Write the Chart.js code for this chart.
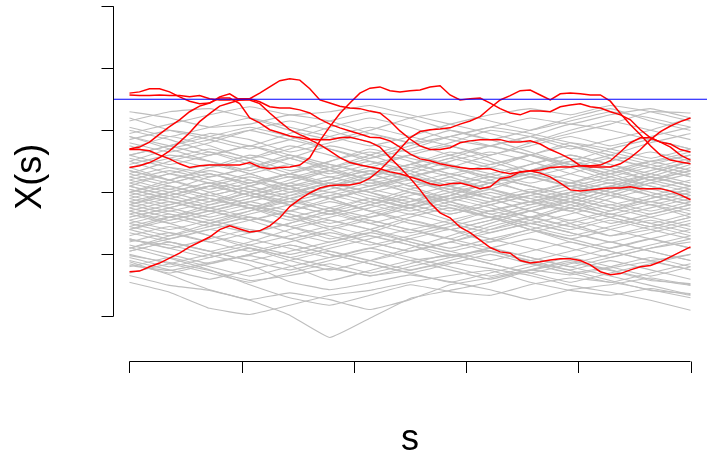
<!DOCTYPE html>
<html><head><meta charset="utf-8">
<script src="https://cdn.jsdelivr.net/npm/chart.js@4.4.1/dist/chart.umd.min.js"></script>
<style>html,body{margin:0;padding:0;background:#fff;overflow:hidden}#c{display:block}</style>
</head><body>
<canvas id="c" width="707" height="456"></canvas>
<script>
// s positions of the sampled values
const sCoarse = [0,0.0714,0.1429,0.2143,0.2857,0.3571,0.4286,0.5,0.5714,0.6429,0.7143,0.7857,0.8571,0.9286,1];
const sFine = [0,0.0179,0.0357,0.0536,0.0714,0.0893,0.1071,0.125,0.1429,0.1607,0.1786,0.1964,0.2143,0.2321,0.25,0.2679,0.2857,0.3036,0.3214,0.3393,0.3571,0.375,0.3929,0.4107,0.4286,0.4464,0.4643,0.4821,0.5,0.5179,0.5357,0.5536,0.5714,0.5893,0.6071,0.625,0.6429,0.6607,0.6786,0.6964,0.7143,0.7321,0.75,0.7679,0.7857,0.8036,0.8214,0.8393,0.8571,0.875,0.8929,0.9107,0.9286,0.9464,0.9643,0.9821,1];
const xTicks = [0,0.2,0.4,0.6,0.8,1];
const yTicks = [-2,-1,0,1,2,3];
const threshold = 1.5;
const plotX = [-0.0294, 1.0294];
const plotY = [-2.72, 3.22];

// gray paths (never exceed the threshold), values at sCoarse
const grayTop = [
 [1.3,1.2,1.05,1.1,1.25,1.15,0.95,0.8,0.9,1.05,1.2,1.1,1.25,1.35,1.2],
 [1.15,1.3,1.35,1.2,1.0,0.85,1.0,1.2,1.3,1.15,1.0,1.15,1.3,1.2,1.05],
 [0.95,1.1,1.25,1.38,1.25,1.3,1.4,1.25,1.1,0.95,0.8,0.95,1.1,1.3,1.28],
 [1.2,1.0,0.85,0.7,0.85,1.05,1.2,1.05,0.85,0.75,0.9,1.1,1.0,0.85,0.7],
 [1.05,0.9,1.05,1.2,1.05,0.9,0.75,0.9,1.1,1.25,1.35,1.25,1.4,1.3,1.15],
 [0.85,1.0,0.9,0.75,0.95,1.15,1.3,1.2,1.0,0.85,1.0,1.2,1.35,1.15,1.0]
];
const grayUpper = [
 [0.8,0.65,0.8,1.0,1.15,1.0,0.8,0.65,0.8,1.0,0.9,0.7,0.85,1.0,1.2],
 [0.7,0.9,0.75,0.55,0.7,0.9,1.05,0.9,0.75,0.6,0.8,1.0,1.15,1.0,0.85],
 [0.9,0.75,0.6,0.75,0.55,0.4,0.55,0.75,0.9,0.75,0.6,0.45,0.6,0.8,0.95],
 [0.6,0.75,0.95,0.85,0.65,0.8,0.95,0.8,0.6,0.45,0.6,0.8,0.7,0.55,0.7],
 [0.75,0.55,0.4,0.55,0.75,0.6,0.4,0.25,0.4,0.6,0.75,0.9,0.75,0.9,1.05],
 [0.5,0.7,0.85,1.0,0.85,0.7,0.55,0.7,0.9,1.05,0.95,0.8,0.65,0.5,0.6]
];
const grayMid = [
 [0.45,0.6,0.5,0.35,0.55,0.75,0.6,0.4,0.55,0.75,0.9,0.75,0.55,0.4,0.55],
 [0.35,0.2,0.4,0.6,0.45,0.25,0.4,0.6,0.75,0.55,0.35,0.5,0.7,0.85,0.7],
 [0.3,0.5,0.65,0.5,0.3,0.1,0.25,0.45,0.3,0.15,0.35,0.55,0.4,0.2,0.35],
 [0.55,0.4,0.25,0.4,0.6,0.45,0.3,0.45,0.65,0.5,0.3,0.15,0.3,0.5,0.65],
 [0.4,0.55,0.7,0.55,0.35,0.5,0.7,0.55,0.4,0.25,0.45,0.6,0.45,0.3,0.15],
 [0.6,0.45,0.6,0.75,0.6,0.4,0.2,0.35,0.55,0.4,0.6,0.75,0.6,0.45,0.3],
 [0.25,0.4,0.3,0.15,0.3,0.5,0.65,0.5,0.3,0.45,0.6,0.45,0.3,0.45,0.6],
 [0.5,0.3,0.15,0.3,0.45,0.3,0.45,0.6,0.45,0.3,0.15,0.3,0.5,0.65,0.5]
];
const grayA = [
 [0.2,0.05,0.25,0.4,0.55,0.35,0.15,0.3,0.5,0.65,0.5,0.3,0.15,0.3,0.5],
 [0.1,0.3,0.15,-0.05,0.15,0.35,0.5,0.35,0.15,0.3,0.45,0.6,0.45,0.25,0.1],
 [0.05,-0.1,0.1,0.25,0.1,-0.1,0.05,0.25,0.4,0.2,0.0,0.15,0.35,0.5,0.35],
 [0.15,0.3,0.45,0.3,0.1,0.2,0.35,0.2,0.05,0.2,0.35,0.2,0.05,0.2,0.35],
 [0.25,0.1,-0.05,0.1,0.3,0.15,0.0,0.15,0.3,0.15,0.35,0.5,0.35,0.2,0.05],
 [0.3,0.15,0.3,0.1,-0.05,0.1,0.25,0.4,0.25,0.05,-0.1,0.05,0.2,0.05,0.2],
 [0.0,0.15,0.3,0.15,0.3,0.45,0.3,0.1,0.25,0.4,0.25,0.1,0.25,0.4,0.25],
 [0.2,0.35,0.2,0.05,-0.1,0.05,0.2,0.05,-0.1,0.1,0.25,0.4,0.55,0.4,0.25],
 [0.1,-0.05,-0.2,-0.05,0.1,0.25,0.1,0.25,0.4,0.25,0.1,-0.05,0.1,0.25,0.1],
 [0.35,0.2,0.05,0.2,0.05,0.2,0.35,0.2,0.0,-0.15,0.0,0.15,0.0,-0.15,0.0]
];
const grayB = [
 [0.0,0.2,0.35,0.2,0.0,0.15,0.3,0.1,-0.1,0.05,0.25,0.1,-0.05,0.15,0.3],
 [-0.05,-0.2,0.0,0.15,0.3,0.1,-0.1,-0.25,-0.05,0.15,0.3,0.45,0.3,0.1,-0.05],
 [-0.1,0.05,-0.1,-0.25,-0.05,0.15,0.0,-0.2,-0.05,0.15,0.0,-0.15,0.05,0.25,0.1],
 [0.05,-0.1,-0.25,-0.1,0.05,-0.1,0.05,0.2,0.05,-0.1,0.05,-0.1,-0.25,-0.1,0.05],
 [-0.15,0.0,0.15,0.0,-0.15,0.0,-0.15,-0.3,-0.15,0.0,-0.15,0.0,0.15,0.0,-0.15],
 [0.1,-0.05,0.1,-0.05,-0.2,-0.05,0.1,0.25,0.1,-0.05,-0.2,-0.05,0.1,-0.05,-0.2],
 [-0.05,0.1,-0.05,0.1,0.25,0.1,-0.05,-0.2,-0.35,-0.2,-0.05,0.1,-0.05,-0.2,-0.05],
 [0.0,-0.15,-0.3,-0.15,0.0,0.15,0.0,-0.15,0.0,0.15,0.3,0.15,0.0,0.15,0.0],
 [-0.2,-0.05,0.1,-0.05,-0.2,-0.35,-0.2,-0.05,0.1,0.25,0.1,-0.05,-0.2,-0.05,0.1],
 [0.15,0.0,-0.15,0.0,0.15,0.0,0.15,0.0,-0.15,-0.3,-0.15,0.0,-0.15,-0.3,-0.15]
];
const grayC = [
 [-0.15,-0.3,-0.15,0.05,-0.1,-0.3,-0.15,0.05,0.2,0.05,-0.15,-0.3,-0.1,0.05,-0.1],
 [-0.2,0.0,0.15,0.0,-0.2,-0.35,-0.2,0.0,-0.15,-0.35,-0.2,0.0,0.15,-0.05,-0.2],
 [-0.25,-0.4,-0.25,-0.1,0.05,-0.1,-0.3,-0.15,0.05,-0.1,-0.3,-0.45,-0.3,-0.1,0.05],
 [-0.3,-0.15,-0.3,-0.45,-0.3,-0.1,0.05,-0.1,-0.3,-0.15,0.0,-0.15,-0.35,-0.2,-0.35],
 [-0.35,-0.2,-0.05,-0.2,-0.35,-0.5,-0.35,-0.2,-0.35,-0.2,-0.05,-0.2,-0.35,-0.5,-0.35],
 [-0.2,-0.35,-0.5,-0.35,-0.2,-0.05,-0.2,-0.35,-0.2,-0.35,-0.5,-0.35,-0.2,-0.35,-0.2],
 [-0.3,-0.45,-0.3,-0.15,-0.3,-0.15,-0.3,-0.45,-0.6,-0.45,-0.3,-0.15,-0.3,-0.15,-0.3],
 [-0.1,-0.25,-0.4,-0.25,-0.4,-0.25,-0.1,-0.25,-0.1,0.05,-0.1,-0.25,-0.4,-0.55,-0.4],
 [-0.4,-0.25,-0.1,-0.25,-0.1,-0.25,-0.4,-0.25,-0.1,-0.25,-0.4,-0.55,-0.4,-0.25,-0.1],
 [-0.25,-0.1,-0.25,-0.4,-0.55,-0.4,-0.25,-0.1,-0.25,-0.4,-0.25,-0.1,-0.25,-0.4,-0.55]
];
const grayD = [
 [-0.35,-0.5,-0.35,-0.2,-0.35,-0.55,-0.4,-0.2,-0.05,-0.2,-0.4,-0.25,-0.05,-0.2,-0.4],
 [-0.4,-0.25,-0.1,-0.25,-0.45,-0.3,-0.1,-0.25,-0.45,-0.6,-0.45,-0.25,-0.4,-0.55,-0.4],
 [-0.45,-0.6,-0.45,-0.3,-0.15,-0.3,-0.5,-0.65,-0.5,-0.3,-0.15,-0.3,-0.5,-0.35,-0.2],
 [-0.5,-0.35,-0.5,-0.65,-0.5,-0.3,-0.45,-0.6,-0.75,-0.55,-0.4,-0.55,-0.7,-0.55,-0.7],
 [-0.55,-0.7,-0.55,-0.4,-0.55,-0.75,-0.6,-0.4,-0.25,-0.4,-0.6,-0.75,-0.6,-0.45,-0.6],
 [-0.6,-0.45,-0.3,-0.45,-0.65,-0.8,-0.65,-0.45,-0.6,-0.8,-0.65,-0.5,-0.35,-0.5,-0.65],
 [-0.5,-0.65,-0.8,-0.65,-0.5,-0.35,-0.5,-0.35,-0.5,-0.65,-0.5,-0.65,-0.8,-0.65,-0.5],
 [-0.45,-0.3,-0.45,-0.6,-0.75,-0.6,-0.45,-0.6,-0.45,-0.3,-0.45,-0.6,-0.45,-0.6,-0.75],
 [-0.6,-0.75,-0.6,-0.45,-0.3,-0.45,-0.6,-0.75,-0.9,-0.75,-0.6,-0.45,-0.6,-0.75,-0.9],
 [-0.55,-0.4,-0.55,-0.4,-0.55,-0.7,-0.85,-0.7,-0.55,-0.4,-0.55,-0.7,-0.55,-0.4,-0.25]
];
const grayE = [
 [-0.65,-0.8,-0.95,-0.8,-0.6,-0.45,-0.6,-0.8,-0.95,-0.8,-0.6,-0.75,-0.9,-0.75,-0.6],
 [-0.7,-0.55,-0.7,-0.85,-1.0,-0.85,-0.7,-0.85,-1.05,-0.9,-0.75,-0.9,-1.05,-0.9,-0.8],
 [-0.75,-0.9,-0.75,-0.6,-0.75,-0.95,-1.1,-0.95,-0.8,-0.95,-1.1,-0.95,-0.8,-0.95,-1.1],
 [-0.85,-1.0,-1.15,-1.0,-0.85,-1.0,-1.15,-1.3,-1.15,-1.0,-1.15,-1.3,-1.2,-1.05,-1.2],
 [-0.8,-0.65,-0.8,-0.95,-0.8,-0.65,-0.8,-0.95,-0.8,-0.65,-0.5,-0.65,-0.8,-0.95,-1.1],
 [-0.9,-0.75,-0.6,-0.75,-0.9,-1.05,-0.9,-0.75,-0.6,-0.75,-0.9,-1.05,-0.9,-0.75,-0.9],
 [-0.75,-0.9,-1.05,-0.9,-1.05,-0.9,-0.75,-0.6,-0.75,-0.9,-1.05,-1.2,-1.05,-0.9,-0.75],
 [-0.95,-0.8,-0.95,-1.1,-0.95,-0.8,-0.65,-0.8,-0.95,-1.1,-0.95,-0.8,-0.95,-1.1,-1.25]
];
const grayF = [
 [-0.95,-0.8,-0.95,-1.1,-1.25,-1.1,-0.95,-1.1,-1.25,-1.4,-1.25,-1.1,-1.25,-1.4,-1.5],
 [-1.05,-1.2,-1.05,-0.9,-1.05,-1.2,-1.35,-1.2,-1.05,-0.9,-1.05,-1.2,-1.35,-1.5,-1.65],
 [-1.1,-1.25,-1.4,-1.25,-1.1,-0.95,-1.1,-1.25,-1.1,-0.95,-1.1,-1.25,-1.1,-1.25,-1.4],
 [-1.2,-1.05,-1.2,-1.35,-1.2,-1.05,-0.9,-1.05,-1.2,-1.35,-1.2,-1.05,-1.2,-1.35,-1.2],
 [-1.0,-1.15,-1.3,-1.45,-1.3,-1.15,-1.3,-1.15,-1.0,-1.15,-1.3,-1.45,-1.3,-1.15,-1.0],
 [-1.15,-1.3,-1.15,-1.0,-0.85,-1.0,-1.15,-1.3,-1.45,-1.3,-1.15,-1.3,-1.45,-1.3,-1.15]
];
const grayLow = [
 [-1.34,-1.50,-1.58,-1.74,-1.98,-2.34,-2.03,-1.71,-1.58,-1.45,-1.26,-1.13,-1.26,-1.42,-1.47],
 [-1.45,-1.61,-1.87,-1.97,-1.82,-1.66,-1.58,-1.45,-1.34,-1.26,-1.45,-1.58,-1.66,-1.55,-1.66],
 [-1.02,-1.13,-1.26,-1.42,-1.34,-1.23,-1.34,-1.26,-1.13,-1.23,-1.34,-1.50,-1.61,-1.74,-1.90],
 [-1.18,-1.26,-1.13,-1.02,-1.18,-1.42,-1.26,-1.10,-1.02,-0.94,-1.13,-1.26,-1.42,-1.58,-1.63],
 [-1.12,-1.33,-1.57,-1.73,-1.62,-1.73,-1.89,-1.73,-1.49,-1.38,-1.25,-1.33,-1.22,-1.12,-1.25],
 [-0.89,-1.06,-1.25,-1.49,-1.70,-1.82,-1.66,-1.49,-1.60,-1.66,-1.49,-1.38,-1.45,-1.57,-1.70],
 [-0.77,-0.85,-1.01,-1.17,-1.44,-1.57,-1.46,-1.33,-1.44,-1.57,-1.73,-1.57,-1.49,-1.38,-1.49]
];
const grayDrift = [
 [0.9,0.7,0.5,0.3,0.1,-0.1,-0.3,-0.5,-0.6,-0.45,-0.3,-0.5,-0.7,-0.6,-0.45],
 [-0.9,-0.7,-0.5,-0.3,-0.1,0.1,0.3,0.45,0.6,0.75,0.6,0.4,0.2,0.35,0.5],
 [0.4,0.2,0.0,-0.2,-0.4,-0.6,-0.8,-0.95,-0.8,-0.6,-0.4,-0.2,0.0,0.2,0.4],
 [-0.6,-0.4,-0.2,0.0,0.2,0.35,0.2,0.0,-0.2,-0.4,-0.6,-0.8,-0.95,-1.1,-1.0],
 [1.0,0.85,0.65,0.45,0.25,0.4,0.6,0.8,1.0,0.85,0.65,0.45,0.25,0.1,-0.05],
 [-0.3,-0.5,-0.7,-0.9,-1.1,-1.25,-1.1,-0.9,-0.7,-0.5,-0.3,-0.1,0.1,0.3,0.5],
 [0.6,0.75,0.9,1.05,0.9,0.7,0.5,0.3,0.1,-0.1,-0.3,-0.15,0.05,0.25,0.45],
 [-1.3,-1.15,-1.0,-0.85,-0.7,-0.55,-0.7,-0.85,-1.0,-1.15,-1.3,-1.15,-1.0,-0.85,-0.7]
];

// red paths (exceed the threshold), values at sFine
const red1 = [-1.28,-1.27,-1.20,-1.14,-1.06,-0.98,-0.88,-0.80,-0.72,-0.60,-0.54,-0.59,-0.64,-0.62,-0.54,-0.41,-0.23,-0.11,-0.01,0.07,0.11,0.12,0.12,0.15,0.23,0.36,0.52,0.70,0.88,0.98,1.01,1.02,1.04,1.10,1.15,1.22,1.36,1.49,1.56,1.64,1.65,1.57,1.49,1.59,1.60,1.59,1.57,1.57,1.47,1.27,1.09,0.93,0.75,0.60,0.52,0.49,0.46];
const red2 = [0.69,0.69,0.67,0.60,0.54,0.46,0.40,0.43,0.44,0.44,0.44,0.44,0.48,0.41,0.38,0.40,0.41,0.44,0.56,0.83,1.06,1.27,1.44,1.60,1.68,1.70,1.64,1.62,1.64,1.65,1.70,1.72,1.57,1.49,1.51,1.52,1.44,1.35,1.28,1.25,1.31,1.31,1.30,1.38,1.41,1.43,1.38,1.36,1.30,1.25,1.17,1.01,0.88,0.81,0.78,0.69,0.65];
const red3 = [0.40,0.43,0.48,0.56,0.67,0.81,0.96,1.14,1.27,1.39,1.44,1.49,1.51,1.60,1.70,1.80,1.83,1.81,1.67,1.49,1.44,1.39,1.36,1.35,1.31,1.28,1.15,0.99,0.86,0.75,0.69,0.69,0.72,0.80,0.83,0.85,0.85,0.85,0.81,0.81,0.83,0.78,0.69,0.62,0.54,0.43,0.41,0.41,0.41,0.46,0.56,0.69,0.85,0.98,1.07,1.14,1.20];
const red4 = [1.60,1.62,1.67,1.67,1.62,1.54,1.47,1.43,1.44,1.54,1.59,1.49,1.49,1.43,1.28,1.14,1.01,0.93,0.86,0.85,0.85,0.88,0.89,0.85,0.81,0.73,0.56,0.40,0.23,0.04,-0.17,-0.33,-0.41,-0.56,-0.65,-0.77,-0.89,-0.96,-0.98,-1.10,-1.14,-1.12,-1.09,-1.07,-1.07,-1.10,-1.17,-1.28,-1.33,-1.31,-1.25,-1.20,-1.18,-1.12,-1.04,-0.96,-0.88];
const red5 = [1.57,1.56,1.56,1.57,1.56,1.56,1.54,1.56,1.51,1.49,1.49,1.51,1.51,1.46,1.38,1.36,1.36,1.33,1.28,1.18,1.10,1.04,0.99,0.94,0.89,0.88,0.83,0.73,0.62,0.54,0.51,0.46,0.43,0.40,0.38,0.38,0.38,0.33,0.30,0.33,0.35,0.31,0.25,0.15,0.04,0.02,0.04,0.06,0.07,0.07,0.09,0.06,0.06,0.06,0.02,-0.04,-0.12];
const red6 = [0.70,0.73,0.81,0.94,1.06,1.17,1.30,1.39,1.44,1.52,1.52,1.43,1.20,1.12,1.01,0.96,0.91,0.88,0.85,0.77,0.67,0.56,0.48,0.44,0.41,0.38,0.33,0.30,0.25,0.20,0.14,0.11,0.14,0.15,0.11,0.06,0.09,0.22,0.25,0.33,0.35,0.36,0.40,0.41,0.41,0.43,0.43,0.44,0.51,0.65,0.80,0.88,0.88,0.81,0.73,0.60,0.52];

const grayGroups = [grayTop, grayUpper, grayMid, grayA, grayB, grayC, grayD, grayE, grayF, grayLow, grayDrift];
const redPaths = [red1, red2, red3, red4, red5, red6];

const datasets = [];
datasets.push({
  data: [{x: plotX[0], y: threshold}, {x: plotX[1], y: threshold}],
  borderColor: '#0000FF', borderWidth: 1.1, pointRadius: 0, tension: 0, order: 0
});
redPaths.forEach(p => datasets.push({
  data: p.map((v, i) => ({x: sFine[i], y: v})),
  borderColor: '#FF0000', borderWidth: 1.5, pointRadius: 0, tension: 0, order: 1
}));
grayGroups.forEach(g => g.forEach(p => datasets.push({
  data: p.map((v, i) => ({x: sCoarse[i], y: v})),
  borderColor: '#BEBEBE', borderWidth: 1.1, pointRadius: 0, tension: 0.1, order: 2
})));

const rAxes = {
  id: 'rAxes',
  afterDraw(chart) {
    const {ctx} = chart;
    const xs = chart.scales.x, ys = chart.scales.y;
    ctx.save();
    ctx.strokeStyle = '#000';
    ctx.lineWidth = 1;
    const ax = Math.round(xs.getPixelForValue(plotX[0])) + 0.5;
    ctx.beginPath();
    ctx.moveTo(ax, ys.getPixelForValue(yTicks[0]));
    ctx.lineTo(ax, ys.getPixelForValue(yTicks[yTicks.length - 1]));
    yTicks.forEach(v => {
      const py = Math.round(ys.getPixelForValue(v)) + 0.5;
      ctx.moveTo(ax, py); ctx.lineTo(ax - 12, py);
    });
    const ay = Math.round(ys.getPixelForValue(plotY[0])) + 0.5;
    ctx.moveTo(xs.getPixelForValue(xTicks[0]), ay);
    ctx.lineTo(xs.getPixelForValue(xTicks[xTicks.length - 1]), ay);
    xTicks.forEach(v => {
      const px = Math.round(xs.getPixelForValue(v)) + 0.5;
      ctx.moveTo(px, ay); ctx.lineTo(px, ay + 11.5);
    });
    ctx.stroke();
    ctx.fillStyle = '#000';
    ctx.font = '36px "Liberation Sans", Arial, Helvetica, sans-serif';
    ctx.textAlign = 'center';
    ctx.textBaseline = 'alphabetic';
    const midX = (xs.getPixelForValue(xTicks[0]) + xs.getPixelForValue(xTicks[xTicks.length - 1])) / 2;
    ctx.fillText('s', midX, 450);
    const midY = (ys.getPixelForValue(plotY[0]) + ys.getPixelForValue(plotY[1])) / 2;
    ctx.translate(41, midY);
    ctx.rotate(-Math.PI / 2);
    ctx.fillText('X(s)', 0, 0);
    ctx.restore();
  }
};

new Chart(document.getElementById('c'), {
  type: 'line',
  data: {datasets},
  options: {
    responsive: false,
    animation: false,
    layout: {padding: 0},
    events: [],
    scales: {
      x: {type: 'linear', min: -0.2308, max: 1.0294, display: false},
      y: {type: 'linear', min: -4.2510, max: 3.1015, display: false}
    },
    plugins: {legend: {display: false}, tooltip: {enabled: false}, title: {display: false}}
  },
  plugins: [rAxes]
});
</script>
</body></html>
